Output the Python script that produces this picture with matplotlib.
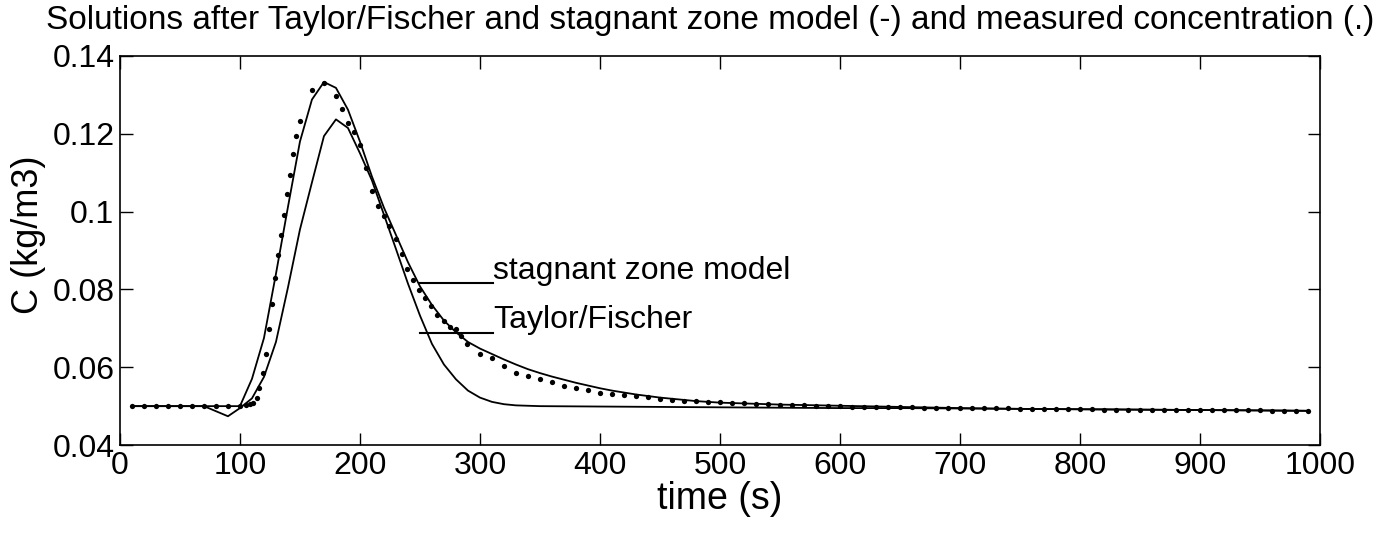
import matplotlib
matplotlib.use("Agg")
import matplotlib.pyplot as plt

plt.rcParams['font.family'] = ['Liberation Sans', 'DejaVu Sans']

# measured concentration (dots)
t_meas = [10, 20, 30, 40, 50, 60, 70, 80, 90, 100,
          105, 108, 111, 114, 116, 119, 122, 124, 126.5, 129, 132, 134, 137, 139.5,
          142, 144.5, 147, 150, 160, 170, 180, 185, 190, 195, 200, 205, 210, 215,
          220, 224.5, 230, 235, 239.5, 244, 249.5, 254, 259, 264.5, 270, 275, 280,
          284.5, 289.5, 300, 310, 320, 330, 340, 350, 360, 370, 380, 390, 400, 410,
          420, 430, 440, 450, 460, 470,
          480, 490, 500, 510, 520, 530, 540, 550, 560, 570, 580, 590, 600, 610,
          620, 630, 640, 650, 660, 670, 680, 690, 700, 710, 720, 730, 740, 750,
          760, 770, 780, 790, 800, 810, 820, 830, 840, 850, 860, 870, 880, 890,
          900, 910, 920, 930, 940, 950, 960, 970, 980, 990]
c_meas = [0.05, 0.05, 0.05, 0.05, 0.05, 0.05, 0.05, 0.05, 0.05, 0.05,
          0.0502, 0.0505, 0.0508, 0.0521, 0.0547, 0.0584, 0.0635, 0.0697, 0.0763,
          0.0830, 0.0888, 0.0941, 0.0990, 0.1044,
          0.1095, 0.1147, 0.1194, 0.1234, 0.1312, 0.1331, 0.1298, 0.1264, 0.1228,
          0.1204, 0.1172, 0.1112, 0.1052, 0.1015,
          0.0988, 0.0964, 0.0930, 0.0891, 0.0853, 0.0823, 0.0799, 0.0778, 0.0757,
          0.0735, 0.0718, 0.0703, 0.0697,
          0.0681, 0.0661, 0.0635, 0.0624, 0.0602, 0.0585, 0.0577, 0.0571, 0.0561,
          0.0553, 0.0547, 0.0541, 0.0535, 0.0531,
          0.0528, 0.0525, 0.0523, 0.0519, 0.0517, 0.0514,
          0.0513, 0.0511, 0.0510, 0.0508, 0.0507, 0.0506, 0.0505, 0.0504, 0.0503,
          0.0502, 0.0501, 0.0501, 0.0500, 0.0499,
          0.0499, 0.0498, 0.0498, 0.0497, 0.0497, 0.0496, 0.0496, 0.0495, 0.0495,
          0.0495, 0.0494, 0.0494, 0.0494, 0.0493,
          0.0493, 0.0493, 0.0492, 0.0492, 0.0492, 0.0492, 0.0491, 0.0491, 0.0491,
          0.0491, 0.0490, 0.0490, 0.0490, 0.0490,
          0.0490, 0.0489, 0.0489, 0.0489, 0.0489, 0.0489, 0.0488, 0.0488, 0.0488,
          0.0488]

# stagnant zone model
t_stag = [10, 20, 30, 40, 50, 60, 70, 80, 90, 100, 110, 120, 130, 140, 150, 160,
          170, 180, 190, 200, 210, 220, 230, 240, 250, 260, 270, 280, 290, 300,
          310, 320, 330, 340, 350, 360, 370, 380, 390, 400, 410, 420, 430, 440,
          450, 460, 470, 480, 490, 500, 550, 600, 650, 700, 750, 800, 850, 900,
          950, 990]
c_stag = [0.05, 0.05, 0.05, 0.05, 0.05, 0.05, 0.05, 0.05, 0.05, 0.05, 0.0570,
          0.0675, 0.0840, 0.1012, 0.1180, 0.1288, 0.1333, 0.1318, 0.1262, 0.1180,
          0.1090, 0.1010, 0.0940, 0.0870, 0.0808, 0.0760, 0.0720, 0.0690, 0.0665,
          0.0648, 0.0634, 0.0620, 0.0607, 0.0595, 0.0585, 0.0576, 0.0568, 0.0560,
          0.0553, 0.0546, 0.0540, 0.0535, 0.0530, 0.0526, 0.0522, 0.0519, 0.0516,
          0.0513, 0.0511, 0.0509, 0.0504, 0.0501, 0.0498, 0.0495, 0.0493, 0.0492,
          0.0491, 0.0490, 0.0489, 0.0488]

# Taylor/Fischer
t_tf = [10, 20, 30, 40, 50, 60, 70, 80, 90, 100, 110, 120, 130, 140, 150, 160,
        170, 180, 190, 200, 210, 220, 230, 240, 250, 260, 270, 280, 290, 300, 310,
        320, 330, 340, 350, 400, 450, 500, 550, 600, 650, 700, 750, 800, 850, 900,
        950, 990]
c_tf = [0.05, 0.05, 0.05, 0.05, 0.05, 0.05, 0.05, 0.0487, 0.0474, 0.0495, 0.0520,
        0.0575, 0.0665, 0.0805, 0.0954, 0.1075, 0.1194, 0.1237, 0.1215, 0.1150,
        0.1080, 0.0992, 0.0904, 0.0815, 0.0733, 0.0660, 0.0607, 0.0569, 0.0540,
        0.0522, 0.0511, 0.0505, 0.0502, 0.0501, 0.0500, 0.0499, 0.0498, 0.0497,
        0.0496, 0.0495, 0.0495, 0.0494, 0.0493, 0.0492, 0.0491, 0.0490, 0.0489,
        0.0488]

xticks = [0, 100, 200, 300, 400, 500, 600, 700, 800, 900, 1000]
yticks = [0.04, 0.06, 0.08, 0.1, 0.12, 0.14]
ylabels = ['0.04', '0.06', '0.08', '0.1', '0.12', '0.14']

fig = plt.figure(figsize=(13.9, 5.33), dpi=100)
ax = fig.add_axes([0.0863, 0.165, 0.8633, 0.730])

ax.plot(t_stag, c_stag, color='black', lw=1.3)
ax.plot(t_tf, c_tf, color='black', lw=1.3)
ax.plot(t_meas, c_meas, 'o', color='black', ms=3.8, mew=0)

# labels with short lines
ax.plot([250, 311], [0.0817, 0.0817], color='black', lw=1.5)
ax.plot([250, 311], [0.0689, 0.0689], color='black', lw=1.5)
ax.text(311, 0.0827, 'stagnant zone model', fontsize=23, va='baseline', ha='left')
ax.text(311, 0.0700, 'Taylor/Fischer', fontsize=23, va='baseline', ha='left')

ax.set_xlim(0, 1000)
ax.set_ylim(0.04, 0.14)
ax.set_xticks(xticks)
ax.set_xticklabels([str(x) for x in xticks])
ax.set_yticks(yticks)
ax.set_yticklabels(ylabels)
ax.tick_params(direction='in', length=9, width=1, top=True, right=True,
               labelsize=23, pad=4)
for s in ax.spines.values():
    s.set_linewidth(1.2)

ax.set_xlabel('time (s)', fontsize=27, labelpad=0)
ax.set_ylabel('C (kg/m3)', fontsize=26)
ax.yaxis.set_label_coords(-0.062, 0.54)
fig.text(0.511, 0.962,
         'Solutions after Taylor/Fischer and stagnant zone model (-) and measured concentration (.)',
         fontsize=24, ha='center', va='center')

fig.savefig('out.png', dpi=100)
